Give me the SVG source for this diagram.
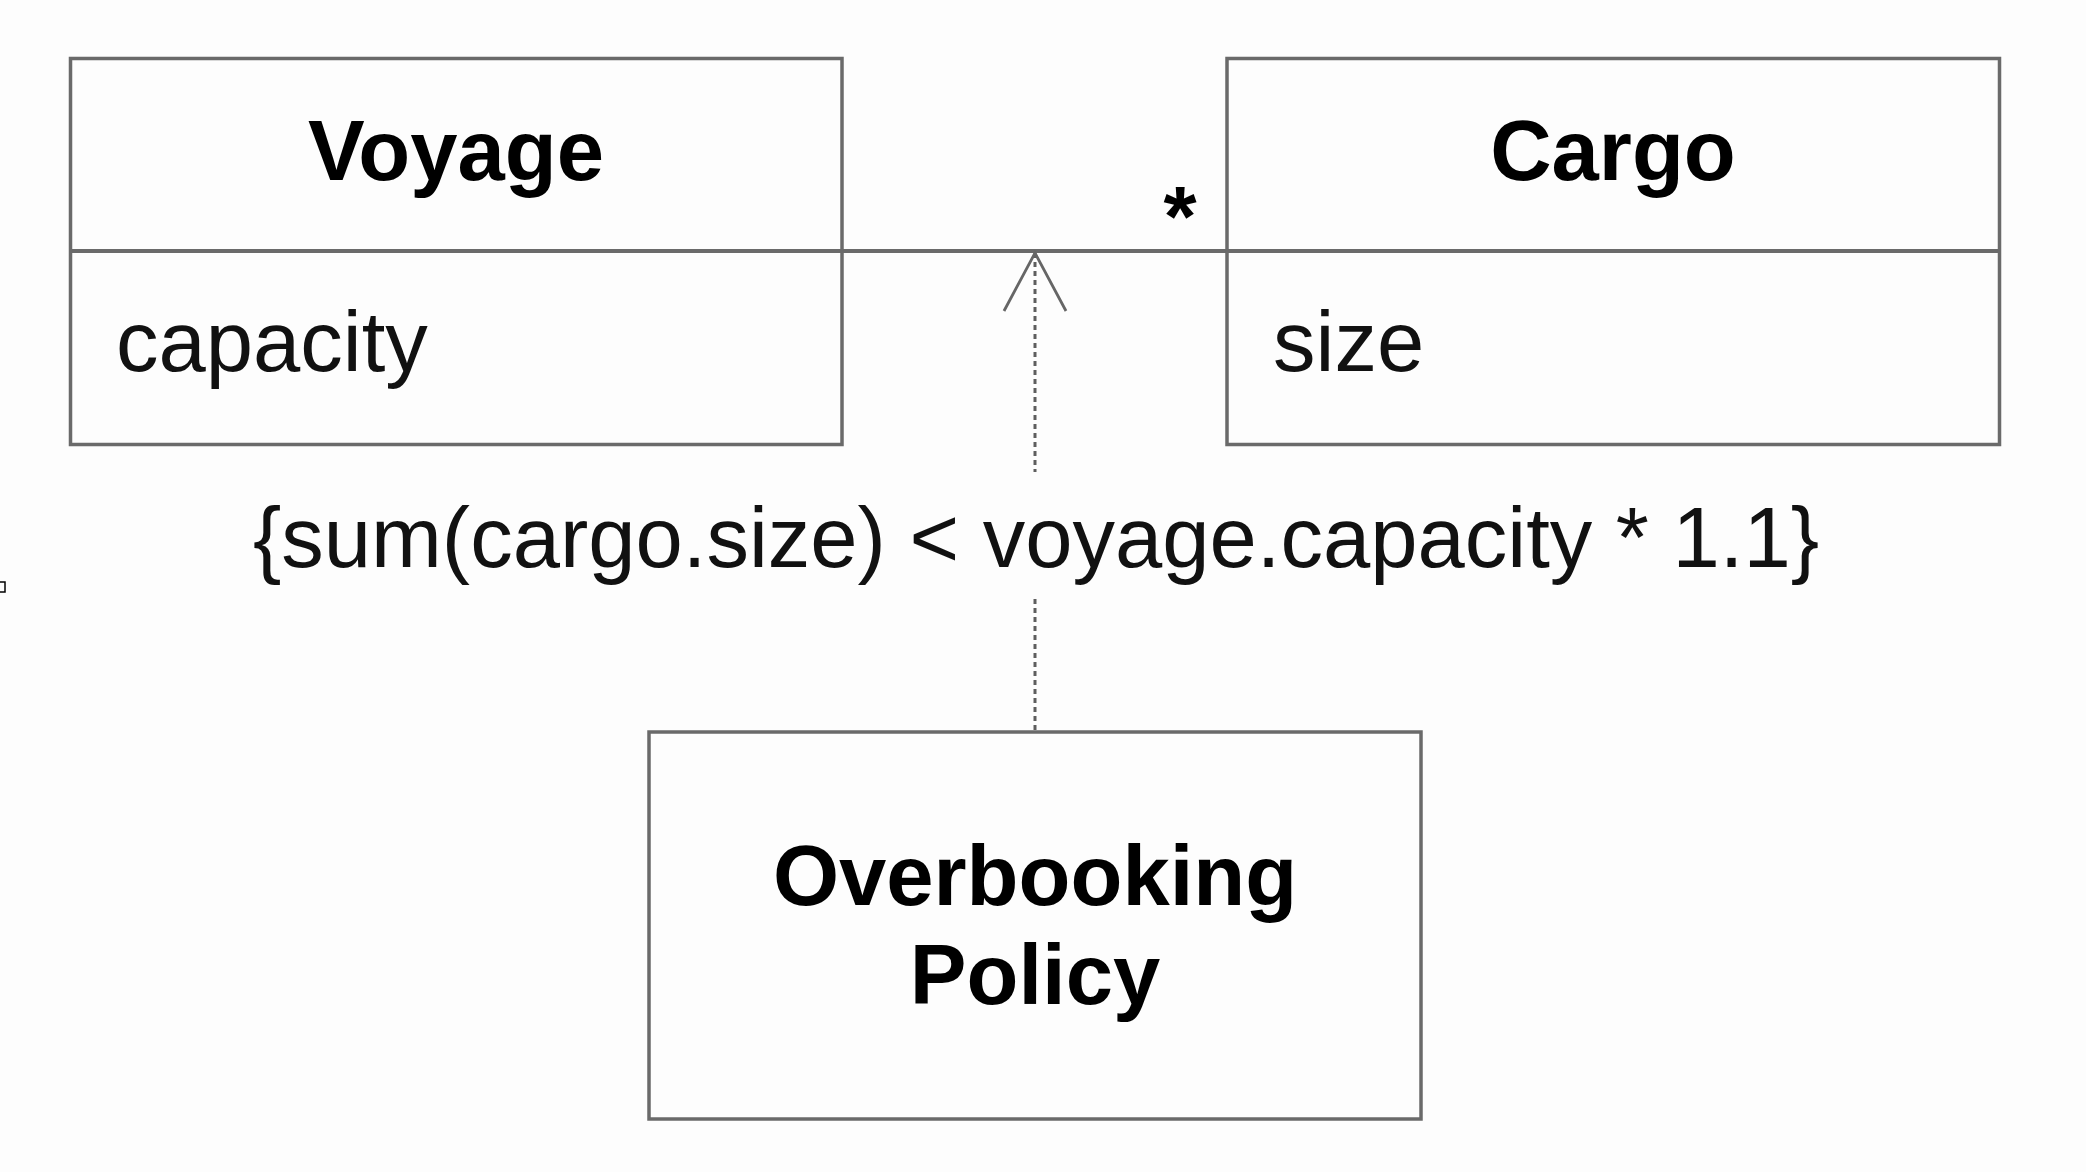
<svg xmlns="http://www.w3.org/2000/svg" width="2086" height="1172" viewBox="0 0 2086 1172">
<defs>
<style>
.box{fill:#fdfdfd;stroke:#6a6a6a;stroke-width:3.5}
.sep{stroke:#6a6a6a;stroke-width:4;fill:none}
.title{font-family:"Liberation Sans",Arial,sans-serif;font-weight:bold;font-size:85px;fill:#000;text-anchor:middle}
.attr{font-family:"Liberation Sans",Arial,sans-serif;font-size:85px;fill:#111}
.dash{stroke:#5e5e5e;stroke-width:3;stroke-dasharray:5 4;fill:none}
.arrow{stroke:#666;stroke-width:2.8;fill:none}
</style>
</defs>
<rect width="2086" height="1172" fill="#fdfdfd"/>
<rect x="-1" y="582" width="6" height="10" fill="none" stroke="#000" stroke-width="1.5"/>
<g id="connectors">
<line class="sep" x1="842" y1="251" x2="1227" y2="251"/>
<line class="dash" x1="1035" y1="253" x2="1035" y2="472"/>
<line class="dash" x1="1035" y1="599" x2="1035" y2="732"/>
<polyline class="arrow" points="1004,311 1035,253 1066,311"/>
<text x="1180" y="246" class="title" font-size="115">*</text>
<text x="1036" y="567" class="attr" text-anchor="middle">{sum(cargo.size) &lt; voyage.capacity * 1.1}</text>
</g>
<g id="voyage">
<rect class="box" x="70.5" y="58.5" width="771.5" height="386"/>
<line class="sep" x1="70.5" y1="251" x2="842" y2="251"/>
<text x="456" y="180" class="title">Voyage</text>
<text x="116" y="371" class="attr">capacity</text>
</g>
<g id="cargo">
<rect class="box" x="1227" y="58.5" width="772.5" height="386"/>
<line class="sep" x1="1227" y1="251" x2="1999.5" y2="251"/>
<text x="1613" y="180" class="title">Cargo</text>
<text x="1273" y="371" class="attr">size</text>
</g>
<g id="overbooking-policy">
<rect class="box" x="649" y="732" width="772" height="387"/>
<text x="1035" y="905" class="title">Overbooking</text>
<text x="1035" y="1004" class="title">Policy</text>
</g>
</svg>
